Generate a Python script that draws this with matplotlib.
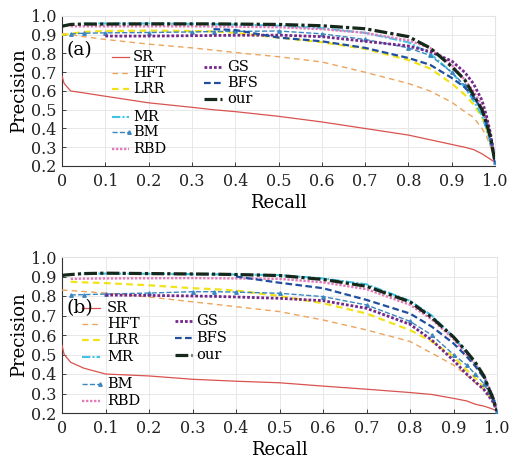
import matplotlib
matplotlib.use('Agg')
import matplotlib.pyplot as plt
from matplotlib.lines import Line2D
import numpy as np

nan = np.nan

# shared recall grid (fraction)
recall = [0, .005, .02, .05, .1, .2, .3, .35, .4, .5, .6, .7, .8, .85, .9, .93, .95, .97, .98, .99, 1.0]

# ---- panel (a) precision values ----
sr_a  = [.68, .64, .60, .59, .572, .537, .513, .50, .49, .465, .435, .40, .365, .34, .315, .30, .288, .265, .25, .235, .22]
hft_a = [.905, .905, .90, .89, .875, .85, .83, .818, .805, .783, .755, .70, .64, .60, .54, .49, .46, .40, .36, .30, .23]
lrr_a = [.90, .90, .905, .915, .92, .922, .92, .918, .91, .885, .86, .825, .765, .72, .64, .58, .53, .46, .40, .32, .23]
mr_a  = [nan, nan, nan, .96, .96, .96, .958, .957, .955, .948, .935, .91, .86, .80, .70, .62, .55, .47, .40, .32, .23]
bm_a  = [nan, nan, .905, .908, .91, .912, .915, .917, .918, .92, .905, .875, .83, .79, .70, .63, .57, .50, .43, .33, .22]
rbd_a = [nan, nan, .945, .945, .945, .945, .945, .944, .943, .94, .93, .91, .87, .83, .74, .66, .60, .52, .45, .35, .23]
gs_a  = [nan, nan, nan, nan, .893, .893, .895, .896, .897, .898, .89, .865, .84, .81, .76, .70, .64, .55, .47, .37, .22]
bfs_a = [nan, nan, nan, nan, nan, nan, nan, .93, .925, .885, .865, .83, .776, .74, .67, .62, .57, .50, .43, .34, .22]
our_a = [.945, .948, .955, .957, .957, .958, .958, .958, .957, .955, .948, .932, .89, .83, .73, .66, .58, .50, .43, .35, .22]

# ---- panel (b) precision values ----
sr_b  = [.547, .50, .46, .43, .40, .39, .373, .368, .363, .355, .338, .322, .305, .295, .275, .262, .245, .235, .228, .22, .21]
hft_b = [.83, .83, .828, .823, .815, .795, .77, .758, .745, .72, .677, .626, .567, .507, .446, .395, .355, .32, .29, .26, .21]
lrr_b = [nan, nan, .873, .87, .866, .855, .84, .835, .828, .80, .763, .71, .625, .567, .49, .42, .38, .33, .30, .26, .21]
mr_b  = [nan, nan, nan, .915, .915, .914, .912, .911, .91, .907, .89, .86, .775, .70, .59, .51, .45, .39, .34, .29, .21]
bm_b  = [nan, nan, .805, .807, .81, .815, .822, .822, .82, .814, .797, .754, .67, .60, .50, .446, .40, .35, .31, .27, .21]
rbd_b = [nan, nan, .888, .889, .89, .891, .892, .891, .89, .888, .87, .835, .755, .68, .58, .50, .45, .39, .34, .29, .21]
gs_b  = [nan, nan, nan, nan, .805, .803, .80, .798, .795, .788, .776, .737, .655, .574, .47, .40, .36, .32, .29, .26, .21]
bfs_b = [nan, nan, nan, nan, nan, nan, nan, nan, .90, .868, .84, .78, .71, .643, .557, .49, .44, .38, .33, .28, .21]
our_b = [.905, .907, .91, .915, .917, .915, .913, .912, .91, .905, .885, .85, .77, .69, .59, .515, .46, .39, .33, .28, .21]

names = ['SR', 'HFT', 'LRR', 'MR', 'BM', 'RBD', 'GS', 'BFS', 'our']
data_a = [sr_a, hft_a, lrr_a, mr_a, bm_a, rbd_a, gs_a, bfs_a, our_a]
data_b = [sr_b, hft_b, lrr_b, mr_b, bm_b, rbd_b, gs_b, bfs_b, our_b]

styles = {
    'SR':  dict(color='#d9534f', ls='-', lw=0.9),
    'HFT': dict(color='#eda45c', ls=(0, (4, 3)), lw=1.0),
    'LRR': dict(color='#f2e21a', ls=(0, (3, 2)), lw=1.6),
    'MR':  dict(color='#3fc4e6', ls=(0, (4, 1, 1, 1)), lw=1.5),
    'BM':  dict(color='#3a86c0', ls='--', lw=1.0, marker='^', ms=2.5, markevery=1),
    'RBD': dict(color='#e27ab8', ls=(0, (1, 0.7)), lw=1.7),
    'GS':  dict(color='#74288a', ls=(0, (1, 0.7)), lw=2.0),
    'BFS': dict(color='#1f4f9e', ls=(0, (3, 1.5)), lw=1.6),
    'our': dict(color='#15281a', ls=(0, (4, 1, 1, 1)), lw=2.3),
}

plt.rcParams.update({
    'font.family': 'DejaVu Serif',
    'font.size': 11,
})

W, H = 527, 462
fig = plt.figure(figsize=(W / 100, H / 100), dpi=100)


def px_ax(x0, x1, ytop, ybot):
    return fig.add_axes([x0 / W, 1 - ybot / H, (x1 - x0) / W, (ybot - ytop) / H])


def legend_entry(name, hx0, hx1, tx, y):
    st = dict(styles[name])
    st.pop('markevery', None)
    ln = Line2D([hx0 / W, hx1 / W], [1 - y / H, 1 - y / H], transform=fig.transFigure, **st)
    if 'marker' in st:
        ln.set_markevery([1])
    fig.add_artist(ln)
    fig.text(tx / W, 1 - y / H, name, ha='left', va='center', fontsize=10.5)


panels = [
    (data_a, (62, 495, 16, 166), '(a)', (67, 50),
     [('SR', 57), ('HFT', 73), ('LRR', 89), ('MR', 117), ('BM', 132), ('RBD', 149)],
     (112, 129, 133),
     [('GS', 67), ('BFS', 83), ('our', 99)],
     (204, 222, 227)),
    (data_b, (62, 497, 257, 413), '(b)', (67, 308),
     [('SR', 308), ('HFT', 324), ('LRR', 340), ('MR', 357), ('BM', 384), ('RBD', 401)],
     (82, 100, 107),
     [('GS', 321), ('BFS', 338), ('our', 355)],
     (175, 192, 196)),
]

for data, box, tag, tagpos, col1, h1, col2, h2 in panels:
    ax = px_ax(*box)
    for name, prec in zip(names, data):
        ax.plot(recall, prec, **styles[name], zorder=3 if name != 'our' else 4)
    ax.set_xlim(0, 1)
    ax.set_ylim(0.2, 1.0)
    ax.set_xticks(np.arange(0, 1.01, 0.1))
    ax.set_xticklabels(['0'] + [f'{v:.1f}' for v in np.arange(0.1, 1.01, 0.1)])
    ax.set_yticks(np.arange(0.2, 1.01, 0.1))
    ax.set_yticklabels([f'{v:.1f}' for v in np.arange(0.2, 1.01, 0.1)])
    ax.tick_params(labelsize=11.5, direction='in', length=3, width=0.6, pad=4, colors='#222222')
    ax.tick_params(axis='x', pad=5)
    ax.grid(True, color='#e8e8e8', lw=0.7)
    ax.set_axisbelow(True)
    for s in ['top', 'right']:
        ax.spines[s].set_color('#e4e4e4')
    for s in ['left', 'bottom']:
        ax.spines[s].set_color('#333333')
        ax.spines[s].set_linewidth(0.8)
    ax.set_xlabel('Recall', fontsize=13, labelpad=3)
    ax.set_ylabel('Precision', fontsize=13, labelpad=2)
    fig.text(tagpos[0] / W, 1 - tagpos[1] / H, tag, ha='left', va='center', fontsize=13.5)
    for name, y in col1:
        legend_entry(name, h1[0], h1[1], h1[2], y)
    for name, y in col2:
        legend_entry(name, h2[0], h2[1], h2[2], y)

plt.savefig('out.png', dpi=100)
plt.close()
